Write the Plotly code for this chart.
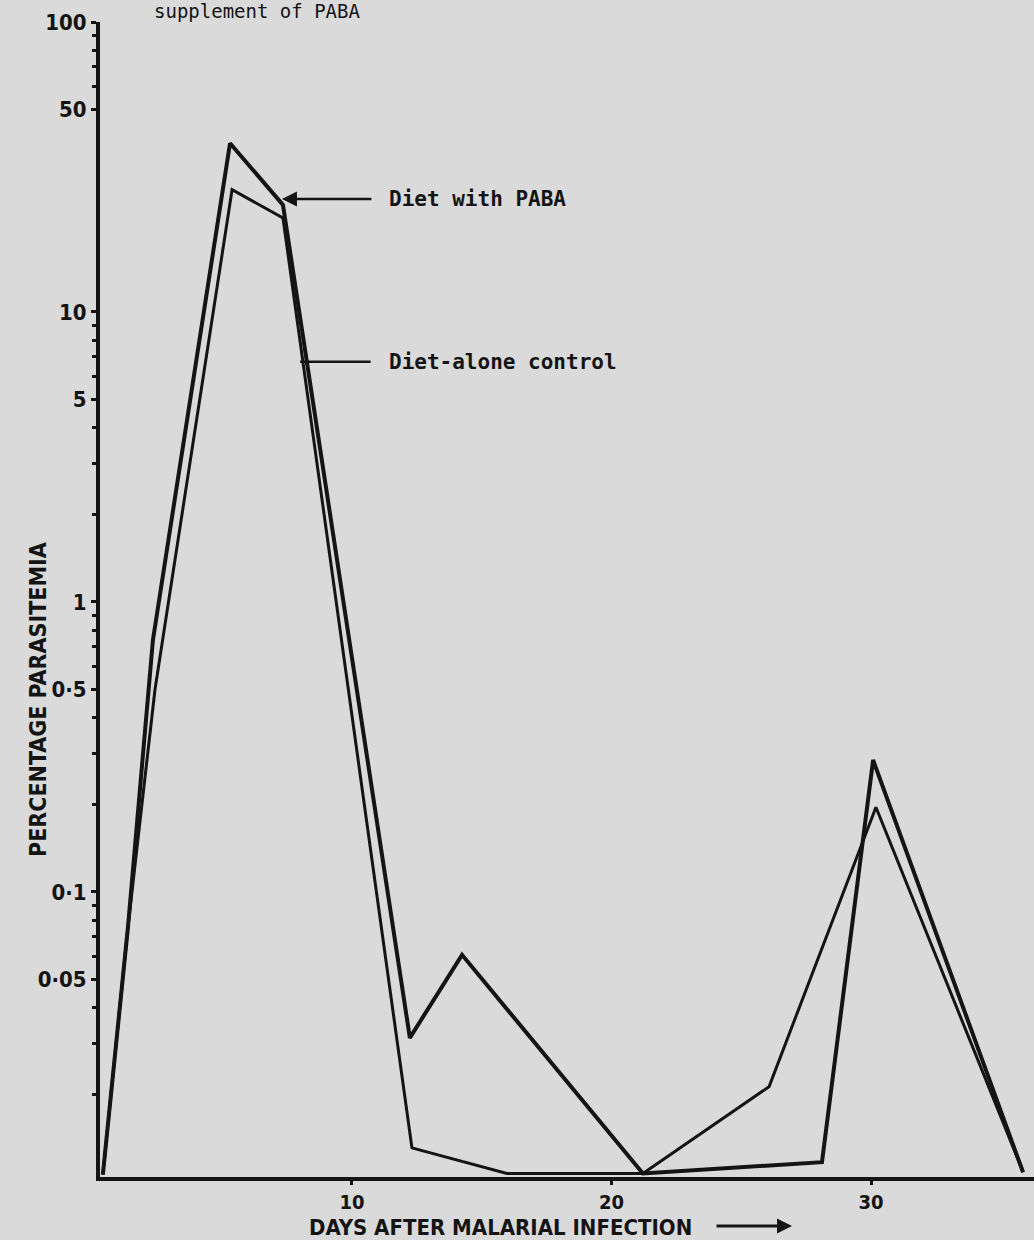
import plotly.graph_objects as go

# ---- data ----
paba_days = [0.40, 1.37, 2.33, 5.30, 7.34, 12.23, 14.24, 21.21, 28.11, 30.08, 35.86]
paba_vals = [0.0106, 0.076, 0.74, 38.2, 23.4, 0.0314, 0.0607, 0.0107, 0.0117, 0.285, 0.0108]

ctrl_days = [0.40, 1.37, 2.41, 5.38, 7.34, 12.31, 15.97, 21.21, 26.07, 30.19, 35.86]
ctrl_vals = [0.0106, 0.076, 0.50, 26.4, 21.1, 0.0131, 0.0107, 0.0107, 0.0213, 0.196, 0.0108]

y_tickvals = [100, 50, 10, 5, 1, 0.5, 0.1, 0.05]
y_ticktext = ["100", "50", "10", "5", "1", "0·5", "0·1", "0·05"]
y_minor = [90, 80, 70, 60, 9, 8, 7, 6, 4, 3, 2, 0.9, 0.8, 0.7, 0.6, 0.4, 0.3, 0.2,
           0.09, 0.08, 0.07, 0.06, 0.04, 0.03, 0.02]
x_tickvals = [10, 20, 30]

INK = "#141414"
BG = "#dadada"
COND = "DejaVu Sans Condensed, Liberation Sans Narrow, DejaVu Sans, sans-serif"
MONO = "DejaVu Sans Mono, Liberation Mono, monospace"

fig = go.Figure()
fig.add_trace(go.Scatter(x=ctrl_days, y=ctrl_vals, mode="lines",
                         line=dict(color=INK, width=3), showlegend=False,
                         name="Diet-alone control"))
fig.add_trace(go.Scatter(x=paba_days, y=paba_vals, mode="lines",
                         line=dict(color=INK, width=4), showlegend=False,
                         name="Diet with PABA"))

fig.update_layout(
    width=1034, height=1240, autosize=False,
    margin=dict(l=100, r=0, t=22, b=63),
    paper_bgcolor=BG, plot_bgcolor=BG,
    font=dict(family=COND, color=INK),
)
fig.update_xaxes(
    range=[0.29, 36.28], showgrid=False, zeroline=False,
    showline=True, linewidth=4, linecolor=INK,
    tickvals=x_tickvals, ticks="outside", ticklen=4, tickwidth=3, tickcolor=INK,
    tickfont=dict(family=COND, size=20, weight="bold", color=INK),
)
fig.update_yaxes(
    type="log", range=[-1.983, 2.0], showgrid=False, zeroline=False,
    showline=True, linewidth=4, linecolor=INK,
    tickvals=y_tickvals, ticktext=y_ticktext,
    ticks="outside", ticklen=5, tickwidth=3, tickcolor=INK,
    tickfont=dict(family=COND, size=22, weight="bold", color=INK),
    minor=dict(tickvals=y_minor, ticks="outside", ticklen=4, tickwidth=3, tickcolor=INK),
)

annots = [
    dict(text="Diet with PABA", x=11.35, y=1.39, xref="x", yref="y",
         xanchor="left", yanchor="middle", showarrow=False,
         font=dict(family=MONO, size=21, color=INK, weight="bold")),
    dict(text="", x=7.30, y=1.39, xref="x", yref="y", showarrow=True,
         ax=91, ay=0, arrowhead=2, arrowsize=1.2, arrowwidth=2.5, arrowcolor=INK),
    dict(text="Diet-alone control", x=11.35, y=0.828, xref="x", yref="y",
         xanchor="left", yanchor="middle", showarrow=False,
         font=dict(family=MONO, size=21, color=INK, weight="bold")),
    dict(text="", x=8.0, y=0.828, xref="x", yref="y", showarrow=True,
         ax=72, ay=0, arrowhead=0, arrowwidth=2.5, arrowcolor=INK),
    dict(text="DAYS AFTER MALARIAL INFECTION", x=(500 - 100) / 934, y=(1177 - 1227) / 1155,
         xref="paper", yref="paper", xanchor="center", yanchor="middle", showarrow=False,
         font=dict(family=COND, size=22, color=INK, weight="bold")),
    dict(text="", x=(792 - 100) / 934, y=(1177 - 1226) / 1155, xref="paper", yref="paper",
         showarrow=True, ax=-77, ay=0, arrowhead=2, arrowsize=1, arrowwidth=3, arrowcolor=INK),
    dict(text="PERCENTAGE PARASITEMIA", x=(38 - 100) / 934, y=(1177 - 700) / 1155,
         xref="paper", yref="paper", xanchor="center", yanchor="middle", textangle=-90,
         showarrow=False, font=dict(family=COND, size=23, color=INK, weight="bold")),
    dict(text="supplement of PABA", x=(152 - 100) / 934, y=(1177 - 11) / 1155,
         xref="paper", yref="paper", xanchor="left", yanchor="middle", showarrow=False,
         font=dict(family=MONO, size=19, color=INK)),
]
fig.update_layout(annotations=annots)

fig.write_html(
    "out.html",
    config={"displayModeBar": False},
    post_script=("document.body.style.margin='0';"
                 "document.body.style.overflow='hidden';"
                 "document.body.style.background='#dadada';"),
)
